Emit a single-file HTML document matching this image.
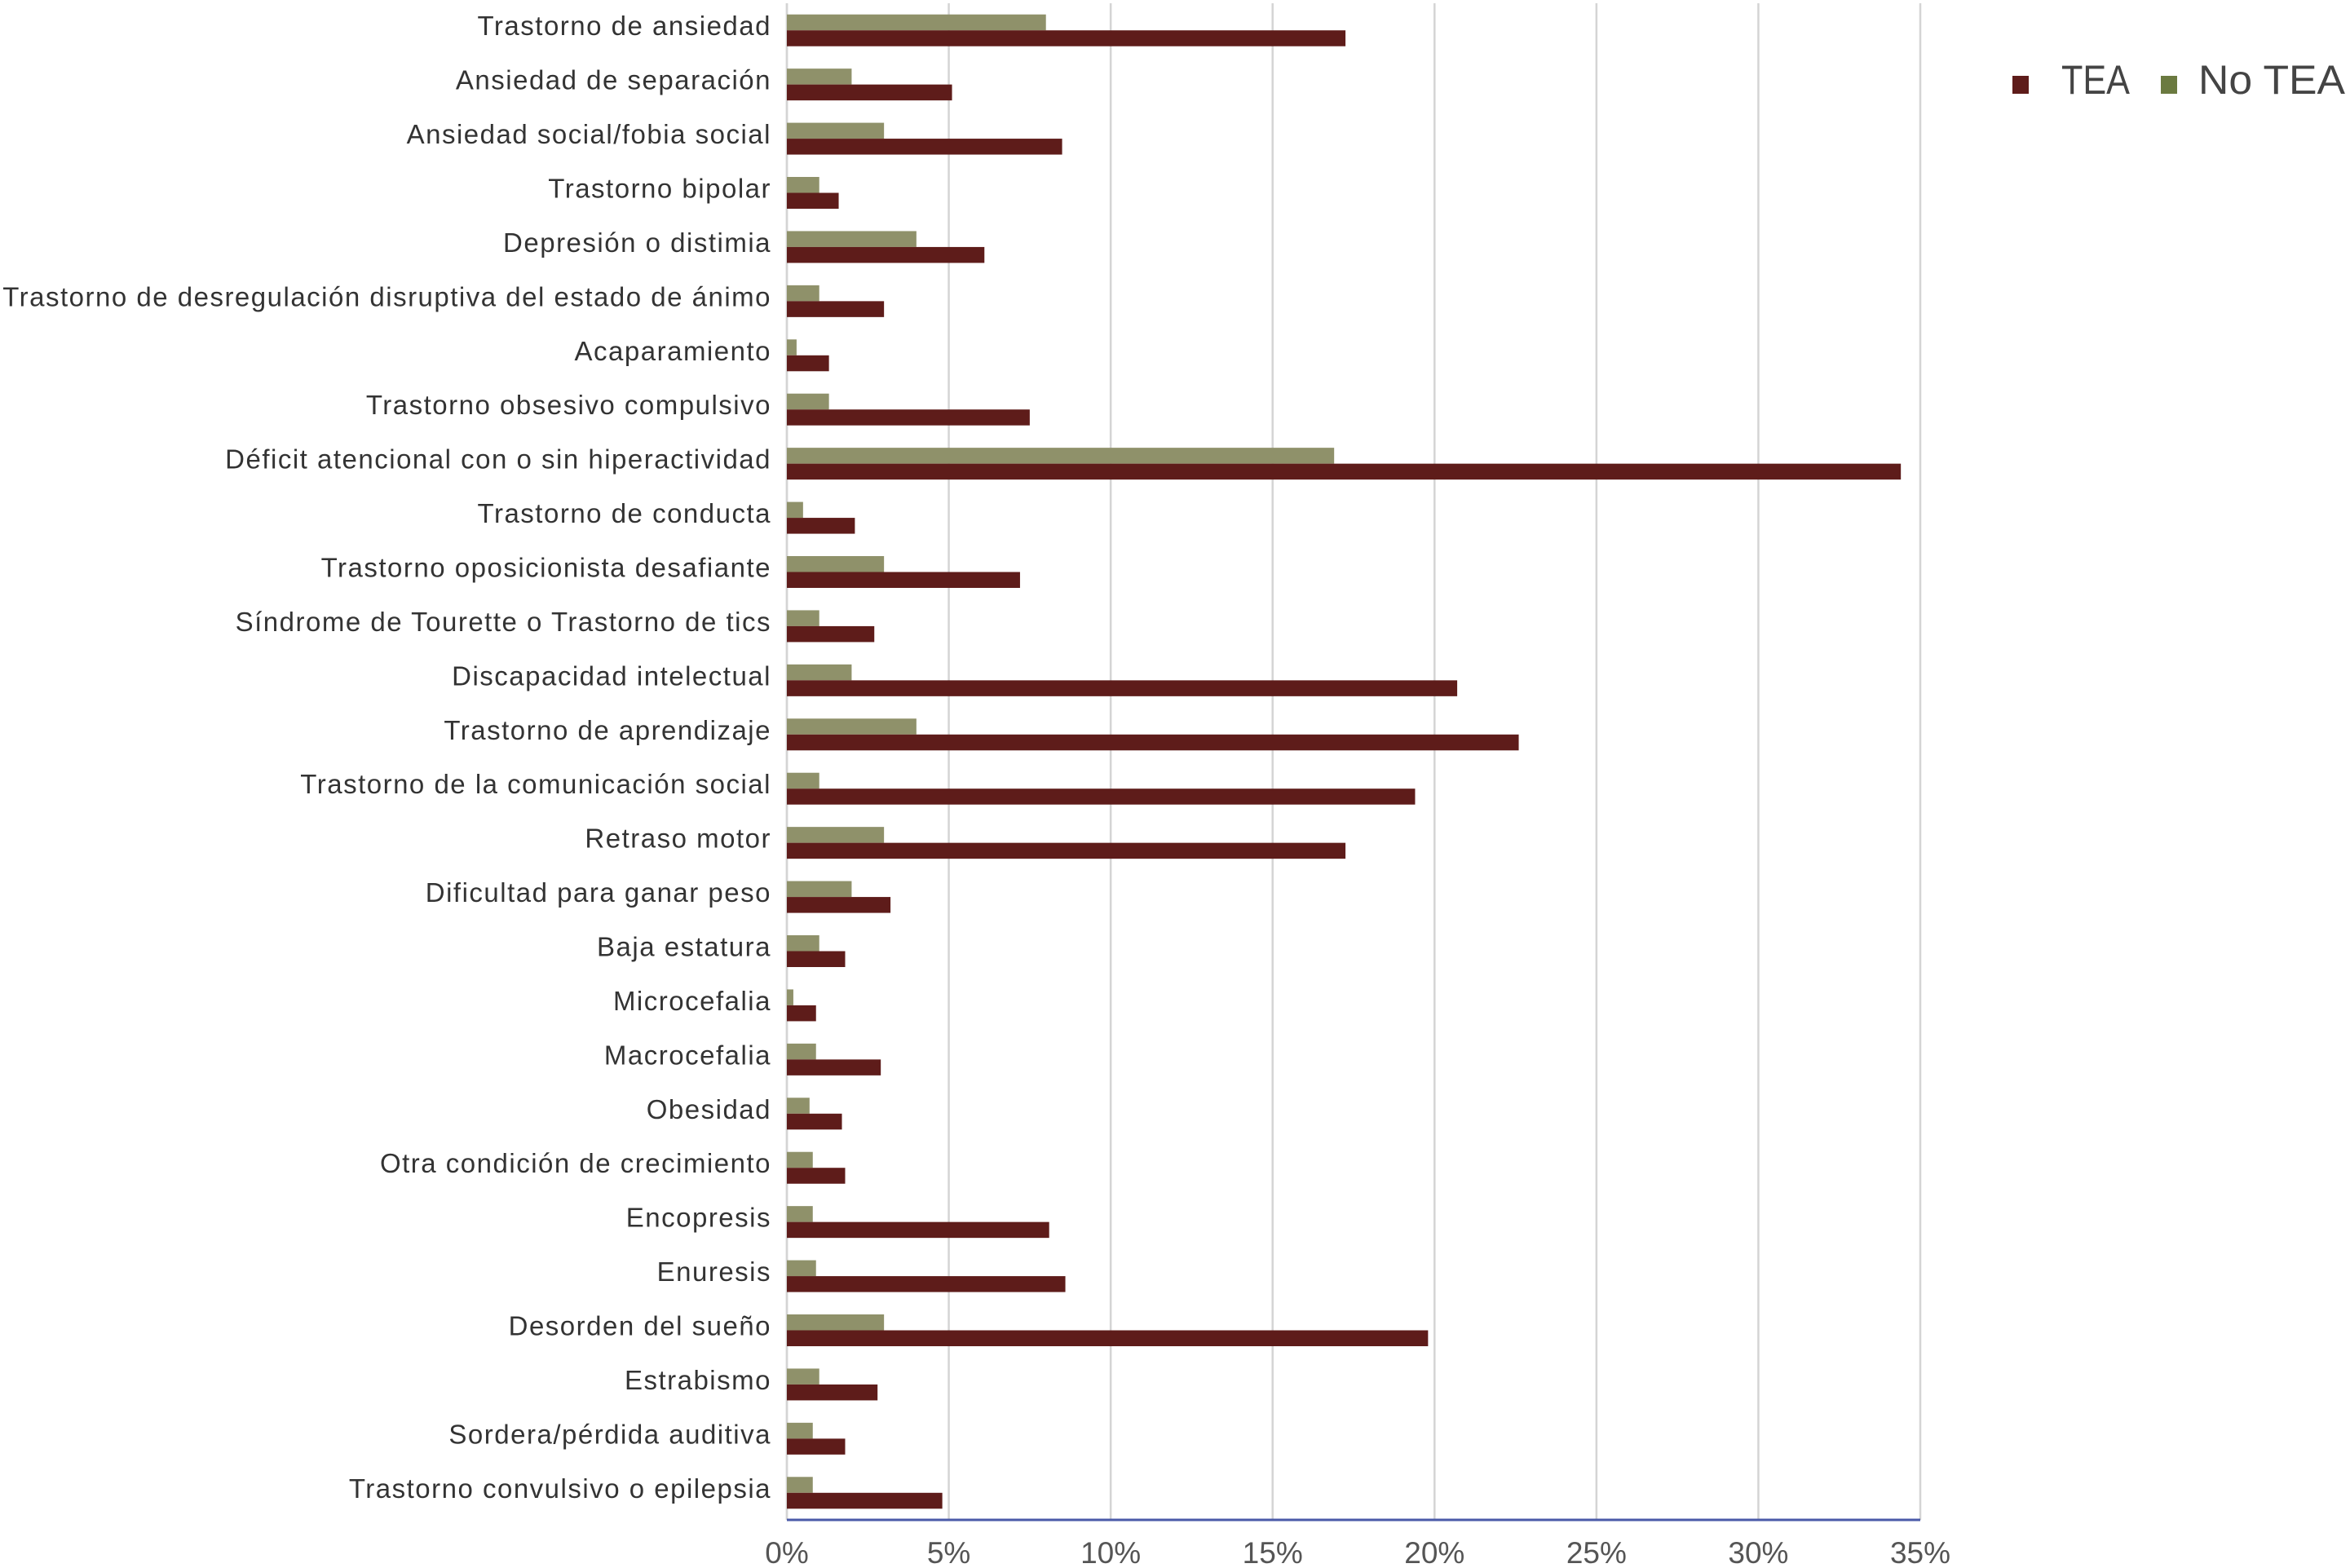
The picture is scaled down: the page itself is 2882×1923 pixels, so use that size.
<!DOCTYPE html>
<html><head><meta charset="utf-8"><style>
html,body{margin:0;padding:0;background:#fff;}
svg{display:block;font-family:"Liberation Sans",sans-serif;}
</style></head><body>
<svg id="chart" width="2882" height="1923" viewBox="0 0 2882 1923" xmlns="http://www.w3.org/2000/svg">
<g id="grid"></g>
<g id="bars"></g>
<g id="labels"></g>
<g id="ticks"></g>
<line x1="965" y1="1864" x2="2355" y2="1864" stroke="#4a5aa8" stroke-width="3"/>
<g>
<g>
<rect x="2468" y="93" width="20" height="22" fill="#5e1c1a"/>
<text x="2528" y="115" font-size="50" fill="#444" textLength="84" lengthAdjust="spacingAndGlyphs">TEA</text>
</g>
<g>
<rect x="2650" y="93" width="20" height="22" fill="#6b7a40"/>
<text x="2696" y="115" font-size="50" fill="#444" textLength="180" lengthAdjust="spacingAndGlyphs">No TEA</text>
</g>
</g>
</svg>
<script>
const categories = ["Trastorno de ansiedad","Ansiedad de separación","Ansiedad social/fobia social","Trastorno bipolar","Depresión o distimia","Trastorno de desregulación disruptiva del estado de ánimo","Acaparamiento","Trastorno obsesivo compulsivo","Déficit atencional con o sin hiperactividad","Trastorno de conducta","Trastorno oposicionista desafiante","Síndrome de Tourette o Trastorno de tics","Discapacidad intelectual","Trastorno de aprendizaje","Trastorno de la comunicación social","Retraso motor","Dificultad para ganar peso","Baja estatura","Microcefalia","Macrocefalia","Obesidad","Otra condición de crecimiento","Encopresis","Enuresis","Desorden del sueño","Estrabismo","Sordera/pérdida auditiva","Trastorno convulsivo o epilepsia"];
const teaValues = [17.25,5.1,8.5,1.6,6.1,3.0,1.3,7.5,34.4,2.1,7.2,2.7,20.7,22.6,19.4,17.25,3.2,1.8,0.9,2.9,1.7,1.8,8.1,8.6,19.8,2.8,1.8,4.8];
const noTeaValues = [8.0,2.0,3.0,1.0,4.0,1.0,0.3,1.3,16.9,0.5,3.0,1.0,2.0,4.0,1.0,3.0,2.0,1.0,0.2,0.9,0.7,0.8,0.8,0.9,3.0,1.0,0.8,0.8];
const tickValues = [0,5,10,15,20,25,30,35];
const tickLabels = ["0%","5%","10%","15%","20%","25%","30%","35%"];

const NS="http://www.w3.org/2000/svg";
const X0=965, X1=2355, XMAX=35, TOP=4, BOTTOM=1864;
const band=(BOTTOM-TOP)/categories.length;
function xScale(v){return X0+(v/XMAX)*(X1-X0);}
function yCenter(i){return TOP+band*i+band/2;}
function mk(tag,attrs,parent){const e=document.createElementNS(NS,tag);for(const k in attrs)e.setAttribute(k,attrs[k]);parent.appendChild(e);return e;}
const grid=document.getElementById('grid'),bars=document.getElementById('bars'),labels=document.getElementById('labels'),ticks=document.getElementById('ticks');
tickValues.forEach((t,i)=>{
  const x=xScale(t);
  const gl=mk('line',{x1:x,y1:TOP,x2:x,y2:BOTTOM,stroke:'#d4d4d4','stroke-width':2.5},grid);
  
  
  const tl=mk('text',{x:x,y:1917,'font-size':37,fill:'#555','text-anchor':'middle'},ticks);
  tl.textContent=tickLabels[i];
  
  
});
const bh=19.5;
categories.forEach((c,i)=>{
  const yc=yCenter(i);
  const g=mk('rect',{x:X0,y:yc-bh,width:xScale(noTeaValues[i])-X0,height:bh,fill:'#8f916a'},bars);
  
  
  const r=mk('rect',{x:X0,y:yc,width:xScale(teaValues[i])-X0,height:bh,fill:'#5e1c1a'},bars);
  
  
  const t=mk('text',{x:946,y:yc+6,'font-size':33,fill:'#333','text-anchor':'end','letter-spacing':'1.5'},labels);
  t.textContent=c;
  
  
});
mk('line',{x1:X0,y1:TOP,x2:X0,y2:BOTTOM,stroke:'#d4d4d4','stroke-width':2.5},grid);
</script>
</body></html>
